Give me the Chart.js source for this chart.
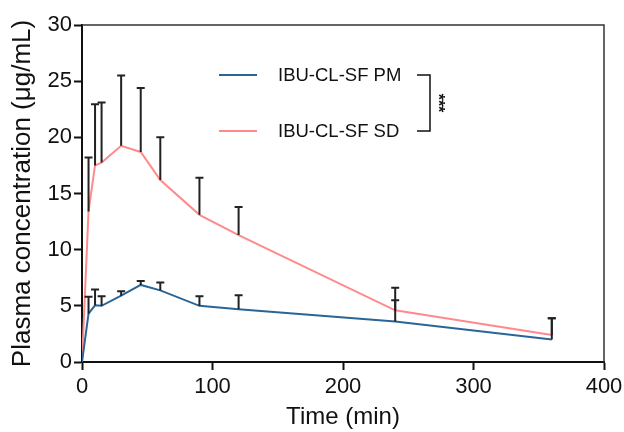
<!DOCTYPE html>
<html>
<head>
<meta charset="utf-8">
<script src="https://cdn.jsdelivr.net/npm/chart.js@4"></script>
<style>
  html, body { margin: 0; padding: 0; background: #fff; }
  canvas { display: block; }
</style>
</head>
<body>
<canvas id="pkChart" width="624" height="432"></canvas>
<script>
// sampling times (min)
const times = [0, 5, 10, 15, 30, 45, 60, 90, 120, 240, 360];

// mean plasma concentration (ug/mL) and SD
const pmMean = [0, 4.3, 5.05, 5.0, 5.9, 6.86, 6.38, 5.0, 4.7, 3.6, 2.0];
const pmSD   = [0, 1.5, 1.4, 0.85, 0.4, 0.35, 0.7, 0.85, 1.25, 1.9, 1.9];
const sdMean = [0, 13.4, 17.5, 17.75, 19.25, 18.7, 16.2, 13.1, 11.3, 4.6, 2.4];
const sdSD   = [0, 4.8, 5.45, 5.35, 6.25, 5.7, 3.8, 3.3, 2.5, 2.0, 1.5];

const seriesNames = ['IBU-CL-SF PM', 'IBU-CL-SF SD'];
const xTicks = [0, 100, 200, 300, 400];
const yTicks = [0, 5, 10, 15, 20, 25, 30];

const FONT = '"Liberation Sans", Arial, sans-serif';
const BLUE = '#2a6598';
const PINK = '#ff8a8c';

function pts(mean) {
  return times.map((t, i) => ({ x: t, y: mean[i] }));
}

// upper error bars, drawn on top of the lines
const errorBars = {
  id: 'errorBars',
  afterDatasetsDraw(chart) {
    const { ctx, scales: { x, y } } = chart;
    const sets = [[pmMean, pmSD], [sdMean, sdSD]];
    ctx.save();
    ctx.strokeStyle = '#222';
    ctx.lineWidth = 2;
    sets.forEach(([mean, sd]) => {
      times.forEach((t, i) => {
        if (!sd[i]) return;
        const px = x.getPixelForValue(t);
        const y0 = y.getPixelForValue(mean[i]);
        const y1 = y.getPixelForValue(mean[i] + sd[i]);
        ctx.beginPath();
        ctx.moveTo(px, y0);
        ctx.lineTo(px, y1);
        ctx.moveTo(px - 4, y1);
        ctx.lineTo(px + 4, y1);
        ctx.stroke();
      });
    });
    ctx.restore();
  }
};

// box frame, legend and significance bracket
const frame = {
  id: 'frame',
  afterDraw(chart) {
    const { ctx, chartArea: a } = chart;
    ctx.save();
    ctx.strokeStyle = '#333';
    ctx.lineWidth = 1.5;
    ctx.beginPath();
    ctx.moveTo(a.left, a.top);
    ctx.lineTo(a.right, a.top);
    ctx.lineTo(a.right, a.bottom);
    ctx.stroke();

    const rows = [75, 131];
    const colors = [BLUE, PINK];
    ctx.font = '18.5px ' + FONT;
    ctx.textBaseline = 'middle';
    ctx.fillStyle = '#111';
    rows.forEach((ry, i) => {
      ctx.strokeStyle = colors[i];
      ctx.lineWidth = 2;
      ctx.beginPath();
      ctx.moveTo(219, ry);
      ctx.lineTo(257, ry);
      ctx.stroke();
      ctx.fillText(seriesNames[i], 278, ry + 1);
    });

    ctx.strokeStyle = '#111';
    ctx.lineWidth = 1.5;
    ctx.beginPath();
    ctx.moveTo(417, rows[0]);
    ctx.lineTo(430, rows[0]);
    ctx.lineTo(430, rows[1]);
    ctx.lineTo(417, rows[1]);
    ctx.stroke();

    ctx.translate(437, (rows[0] + rows[1]) / 2);
    ctx.rotate(Math.PI / 2);
    ctx.font = 'bold 16px ' + FONT;
    ctx.textAlign = 'center';
    ctx.fillText('***', 0, 0);
    ctx.restore();
  }
};

new Chart(document.getElementById('pkChart'), {
  type: 'scatter',
  data: {
    datasets: [
      { label: seriesNames[0], data: pts(pmMean), showLine: true, borderColor: BLUE, borderWidth: 2, pointRadius: 0, tension: 0 },
      { label: seriesNames[1], data: pts(sdMean), showLine: true, borderColor: PINK, borderWidth: 2, pointRadius: 0, tension: 0 }
    ]
  },
  options: {
    responsive: false,
    animation: false,
    layout: { padding: { top: 25, right: 20, left: 0, bottom: 0 } },
    plugins: { legend: { display: false }, tooltip: { enabled: false } },
    scales: {
      x: {
        type: 'linear', min: 0, max: 400,
        afterBuildTicks: s => { s.ticks = xTicks.map(v => ({ value: v })); },
        afterFit: s => { s.height = 70; s.paddingLeft = 0; s.paddingRight = 0; },
        grid: { drawOnChartArea: false, tickLength: 8, tickWidth: 2, tickColor: '#111' },
        border: { color: '#111', width: 2 },
        ticks: { color: '#111', padding: 4, maxRotation: 0, font: { family: FONT, size: 22 } },
        title: { display: true, text: 'Time (min)', color: '#111', padding: 0, font: { family: FONT, size: 24 } }
      },
      y: {
        type: 'linear', min: 0, max: 30,
        afterBuildTicks: s => { s.ticks = yTicks.map(v => ({ value: v })); },
        afterFit: s => { s.width = 82; s.paddingTop = 0; s.paddingBottom = 0; },
        grid: { drawOnChartArea: false, tickLength: 8, tickWidth: 2, tickColor: '#111' },
        border: { color: '#111', width: 2 },
        ticks: { color: '#111', padding: 2, font: { family: FONT, size: 22 } },
        title: { display: true, text: 'Plasma concentration (μg/mL)', color: '#111', padding: { top: 7, bottom: 0 }, font: { family: FONT, size: 26 } }
      }
    }
  },
  plugins: [errorBars, frame]
});
</script>
</body>
</html>
